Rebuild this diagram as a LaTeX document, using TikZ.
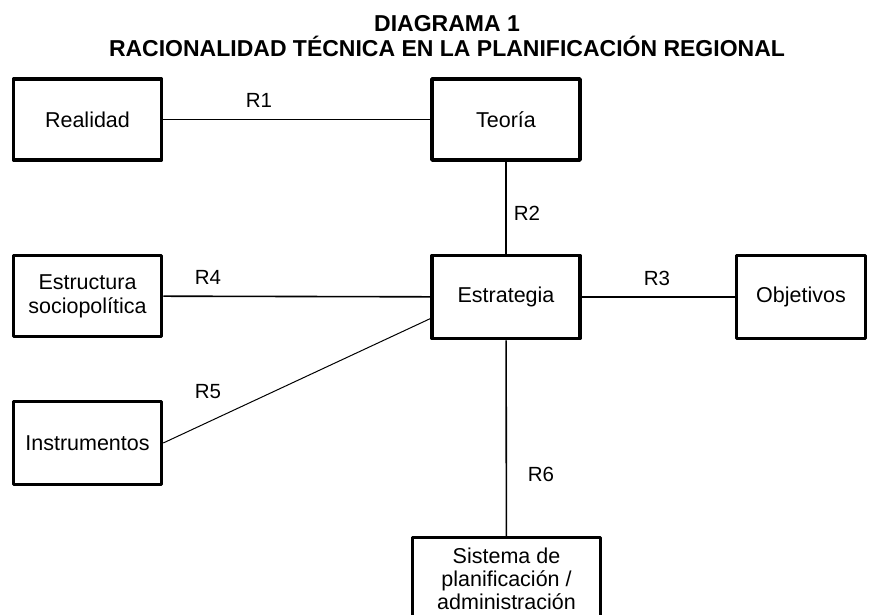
\documentclass[tikz,border=0pt]{standalone}
\usepackage{fontspec}
\setmainfont{Liberation Sans}
\usetikzlibrary{calc}

\begin{document}
\begin{tikzpicture}[x=1pt, y=-1pt,
    box/.style={draw, line width=3.5pt, line join=round, minimum width=148pt, minimum height=81pt,
      align=center, inner sep=0pt, font=\fontsize{21.5}{24}\selectfont},
    link/.style={line width=1.6pt},
    rel/.style={inner sep=0pt, font=\fontsize{20.5}{24}\selectfont}]
  \useasboundingbox (0,0) rectangle (873,615);
  \clip (0,0) rectangle (873,615);

  % title
  \node[anchor=base, font=\bfseries\fontsize{23}{25}\selectfont] at (447,32) (titleA) {DIAGRAMA 1};
  \node[anchor=base, font=\bfseries\fontsize{23}{25}\selectfont] at (447,57) (titleB) {RACIONALIDAD TÉCNICA EN LA PLANIFICACIÓN REGIONAL};

  % boxes
  \node[box] at (87.5,119.5) (real) {Realidad};
  \node[box] at (506,119.5) (teoria) {Teoría};
  \node[box] at (87.5,296) (estruct) {Estructura\\sociopolítica};
  \node[box, minimum height=83pt] at (506,297) (estrat) {Estrategia};
  \node[box, minimum width=129pt, minimum height=83pt] at (801,297) (obj) {Objetivos};
  \node[box, minimum height=83pt] at (87.5,443) (instr) {Instrumentos};
  \node[box, minimum width=188pt, minimum height=83pt, font=\fontsize{21.5}{23}\selectfont] at (506.5,579) (sist) {Sistema de\\planificación /\\administración};

  % relations
  \draw[link] (real) -- (teoria);
  \draw[link] (teoria) -- (estrat);
  \draw[link] (estrat) -- (obj);
  \draw[link] (estruct) -- (estrat);
  \draw[line width=1pt] (instr.east) -- ($(estrat.south west)!0.25!(estrat.north west)$);
  \draw[link] (estrat) -- (sist);

  \node[rel] at (259,100) (r1) {R1};
  \node[rel] at (527,213) (r2) {R2};
  \node[rel] at (657,278) (r3) {R3};
  \node[rel] at (208,277) (r4) {R4};
  \node[rel] at (208,392) (r5) {R5};
  \node[rel] at (541,474) (r6) {R6};
\end{tikzpicture}
\end{document}
